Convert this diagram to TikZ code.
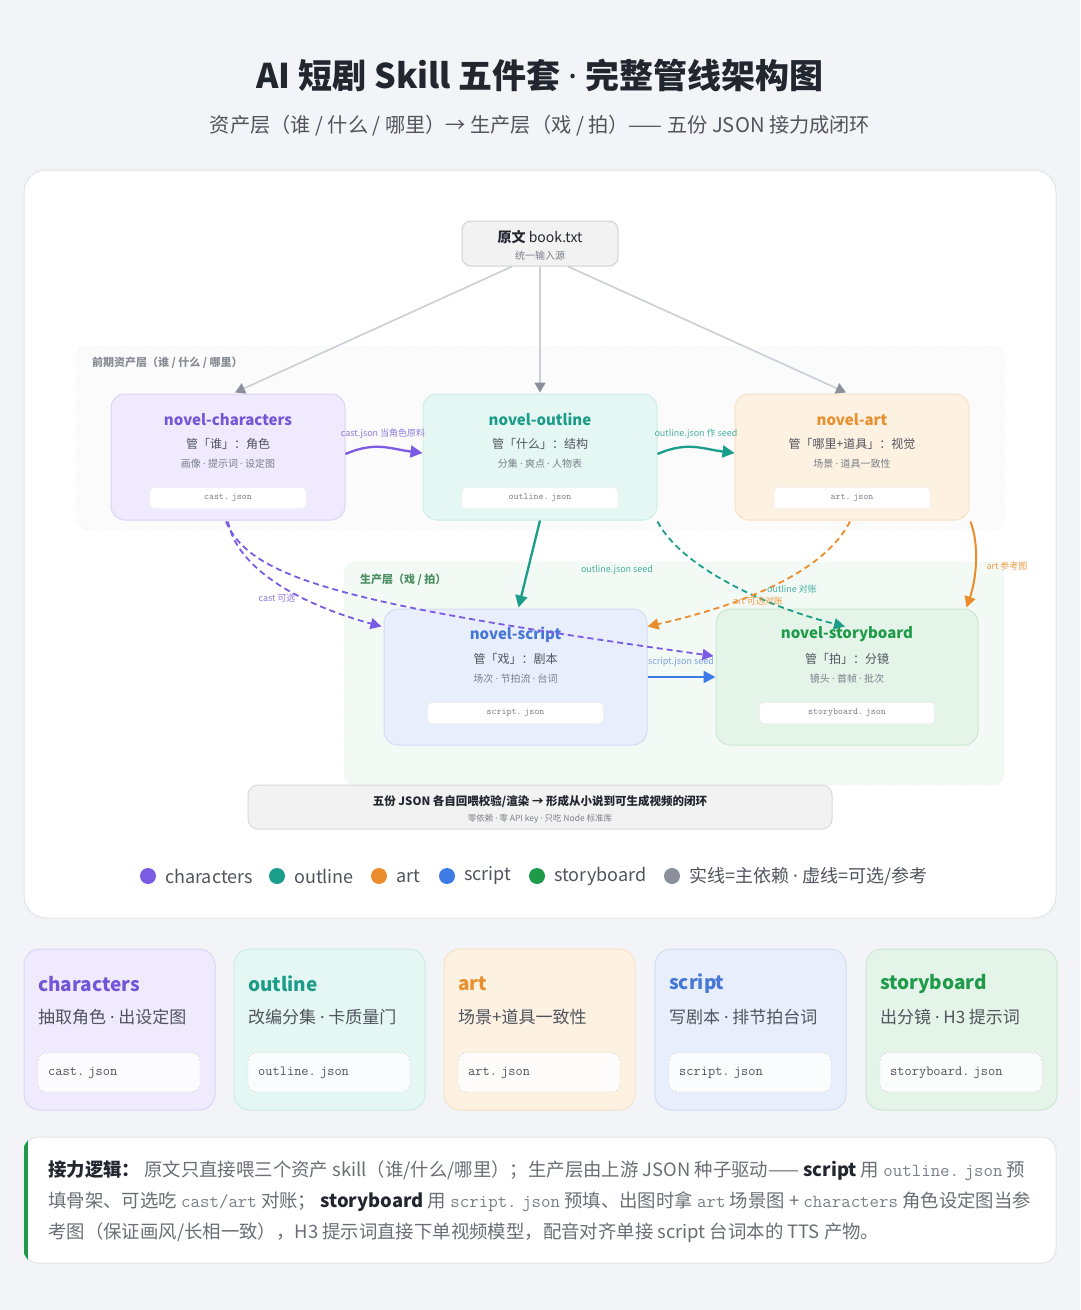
\documentclass[tikz,border=0pt]{standalone}
\usepackage{fontspec}
\setmainfont{Noto Sans CJK SC}
\newfontfamily\latinfont{Noto Sans}
\usetikzlibrary{arrows.meta,calc}

\definecolor{pagebg}{HTML}{F3F4F7}
\definecolor{cardline}{HTML}{E0E3E8}
\definecolor{ink}{HTML}{22262F}
\definecolor{inkmid}{HTML}{50545D}
\definecolor{inklight}{HTML}{7A7F89}
\definecolor{puF}{HTML}{EFEAFD}\definecolor{puL}{HTML}{DCD3F6}\definecolor{puT}{HTML}{7356D6}
\definecolor{teF}{HTML}{E4F7F3}\definecolor{teL}{HTML}{CBEDE5}\definecolor{teT}{HTML}{1C9C88}
\definecolor{orF}{HTML}{FDF1E1}\definecolor{orL}{HTML}{F8E1C4}\definecolor{orT}{HTML}{E8902F}
\definecolor{blF}{HTML}{E8EEFC}\definecolor{blL}{HTML}{D2DCF3}\definecolor{blT}{HTML}{4677D6}
\definecolor{grF}{HTML}{E4F4E8}\definecolor{grL}{HTML}{CBE6D2}\definecolor{grT}{HTML}{1E9A48}
\definecolor{puA}{HTML}{7A5BE3}
\definecolor{teA}{HTML}{1A9E8A}
\definecolor{orA}{HTML}{EB8D2C}
\definecolor{blA}{HTML}{3E7BE6}
\definecolor{grA}{HTML}{1E9A48}
\definecolor{grayA}{HTML}{8C909A}
\definecolor{lineGray}{HTML}{CBCED4}

\newcommand\fsz[1]{\fontsize{#1pt}{#1pt}\selectfont}
\newcommand\md{{\latinfont ·}}
\newcommand\jsn[1]{#1.\hspace{0.3em}json}
\newcommand\monotxt[1]{{\ttfamily\color{inklight}#1}}
\newcommand\strongtxt[1]{{\bfseries\color{ink}#1}}

\tikzset{
  skill/.style={rounded corners=14pt, line width=1pt, inner sep=0pt},
  pill/.style={fill=white, draw=black!8, rounded corners=4pt, minimum height=21pt, inner sep=0pt, font=\ttfamily\fsz{9.5}, text=inklight},
  lbl/.style={font=\fsz{9}, inner sep=1pt},
  srcarrow/.style={draw=lineGray, line width=1.6pt, -{Triangle[length=10pt,width=11pt,color=grayA]}},
  solidarr/.style={line width=2.3pt, -{Triangle[length=12pt,width=12pt]}},
  dasharr/.style={line width=1.8pt, dash pattern=on 6pt off 4pt, -{Triangle[length=11pt,width=11pt]}},
  cardbox/.style={rounded corners=16pt, line width=1pt, minimum width=191pt, minimum height=161pt, inner sep=0pt},
  dpill/.style={fill=white, fill opacity=0.85, draw=black!22, draw opacity=1, dash pattern=on 2pt off 2pt, rounded corners=8pt, minimum width=162pt, minimum height=39pt, inner sep=0pt},
  legdot/.style={circle, minimum size=16pt, inner sep=0pt},
  legtxt/.style={anchor=west, font=\fsz{18}, text=inkmid, inner sep=0pt},
}

\newcommand\skillnode[9]{%
  \node[skill, fill=#5F, draw=#5L, minimum width=#3pt, minimum height=#4pt] (#1) at #2 {};
  \node[font=\bfseries\fsz{15}, text=#5T] (#1-t) at ($(#1.north)+(0,26)$) {#6};
  \node[font=\fsz{12}, text=inkmid] (#1-a) at ($(#1.north)+(0,50)$) {#7};
  \node[font=\fsz{10}, text=inklight] (#1-b) at ($(#1.north)+(0,70)$) {#8};
  \node[pill, minimum width={0.667*#3pt}] (#1-j) at ($(#1.north)+(0,104.5)$) {#9};
}

\newcommand\bottomcard[6]{%
  \node[cardbox, fill=#3F, draw=#3L] (#1) at ({#2+95.5},1029.5) {};
  \node[anchor=west, font=\bfseries\fsz{19}, text=#3T, inner sep=0pt] (#1-t) at ({#2+14},984) {#4};
  \node[anchor=west, font=\fsz{17}, text=inkmid, inner sep=0pt] (#1-d) at ({#2+14},1017) {#5};
  \node[dpill] (#1-p) at ({#2+95},1072.5) {};
  \node[anchor=west, font=\ttfamily\fsz{14}, text=inkmid, inner sep=0pt] (#1-j) at ({#2+24},1073) {#6};
}

\begin{document}
\begin{tikzpicture}[x=1pt,y=-1pt]
\useasboundingbox (0,0) rectangle (1080,1310);
\fill[pagebg] (0,0) rectangle (1080,1310);

% title
\node[font=\bfseries\fsz{34}, text=ink] (title) at (540,75) {AI 短剧 Skill 五件套 \md{} 完整管线架构图};
\node[font=\fsz{20.2}, text=inkmid] (subtitle) at (540,126) {资产层（谁 / 什么 / 哪里）→ 生产层（戏 / 拍）—— 五份 JSON 接力成闭环};

% main card
\node[fill=white, draw=cardline, line width=1pt, rounded corners=22pt, minimum width=1032pt, minimum height=748pt, inner sep=0pt] (maincard) at (540,544) {};

% layers
\node[fill=black!1.5, draw=black!7, dashed, rounded corners=12pt, minimum width=928pt, minimum height=184pt, inner sep=0pt] (assetlayer) at (540,438) {};
\node[anchor=west, font=\bfseries\fsz{11}, text=inklight!90, inner sep=0pt] (assetlbl) at (92,363) {前期资产层（谁 / 什么 / 哪里）};
\node[fill=grF!45, draw=grL!70, dashed, rounded corners=12pt, minimum width=660pt, minimum height=223pt, inner sep=0pt] (prodlayer) at (674,673.5) {};
\node[anchor=west, font=\bfseries\fsz{11}, text=grT!55!gray, inner sep=0pt] (prodlbl) at (360,580) {生产层（戏 / 拍）};

% source
\node[fill=black!5, draw=black!18, line width=1pt, rounded corners=9pt, minimum width=156pt, minimum height=45pt, inner sep=0pt] (src) at (540,243.5) {};
\node[font=\fsz{14}, text=ink] (src-t) at (540,237) {\textbf{原文} book.txt};
\node[font=\fsz{10}, text=inklight] (src-b) at (540,256) {统一输入源};

% skill nodes
\skillnode{chars}{(228,457)}{234}{126}{pu}{novel-characters}{管「谁」：角色}{画像 \md{} 提示词 \md{} 设定图}{\jsn{cast}}
\skillnode{outl}{(540,457)}{234}{126}{te}{novel-outline}{管「什么」：结构}{分集 \md{} 爽点 \md{} 人物表}{\jsn{outline}}
\skillnode{art}{(852,457)}{234}{126}{or}{novel-art}{管「哪里+道具」：视觉}{场景 \md{} 道具一致性}{\jsn{art}}

% source arrows
\draw[srcarrow] ($(src.south)+(-28,0)$) -- ($(chars.north)+(7,-1)$);
\draw[srcarrow] (src.south) -- ($(outl.north)+(0,-1)$);
\draw[srcarrow] ($(src.south)+(28,0)$) -- ($(art.north)+(-6,-1)$);

% production nodes
\skillnode{script}{(515.5,677)}{263}{136}{bl}{novel-script}{管「戏」：剧本}{场次 \md{} 节拍流 \md{} 台词}{\jsn{script}}
\skillnode{story}{(847,677)}{262}{136}{gr}{novel-storyboard}{管「拍」：分镜}{镜头 \md{} 首帧 \md{} 批次}{\jsn{storyboard}}

% solid connectors
\draw[solidarr, puA] ($(chars.east)+(0,-3)$) .. controls ($(chars.east)+(30,-16)$) and ($(outl.west)+(-32,-8)$) .. ($(outl.west)+(0,-4)$);
\node[lbl, text=puT!80] (lb-cast) at (383,434) {cast.json 当角色原料};
\draw[solidarr, teA] ($(outl.east)+(0,-3)$) .. controls ($(outl.east)+(30,-16)$) and ($(art.west)+(-32,-8)$) .. ($(art.west)+(0,-4)$);
\node[lbl, text=teT!80] (lb-outl) at (696,434) {outline.json 作 seed};
\draw[solidarr, teA] (outl.south) -- ($(script.north)+(3,-1)$);
\node[lbl, text=teT!80] (lb-oseed) at (617,570) {outline.json seed};
\draw[line width=2pt, orA, -{Triangle[length=11pt,width=11pt]}] ($(art.south east)+(1,1)$) .. controls ($(art.south east)+(10,25)$) and ($(story.north east)+(-2,-30)$) .. ($(story.north east)+(-12,-1)$);
\node[lbl, text=orT!90] (lb-artref) at (1007,566) {art 参考图};
\draw[solidarr, blA] (script.east) -- (story.west);
\node[lbl, text=blT!70] (lb-sseed) at (681,662) {script.json seed};

% dashed connectors
\draw[dasharr, puA] ($(chars.south)+(0,1)$) .. controls (236,565) and (292,602) .. ($(script.north west)+(-2,18)$);
\node[lbl, text=puT!80] (lb-castopt) at (277,598) {cast 可选};
\draw[dasharr, puA] ($(chars.south)+(-2,1)$) .. controls (250,578) and (340,604) .. ($(story.west)+(-2,-21)$);
\draw[dasharr, teA] ($(outl.south east)+(0,1)$) .. controls (680,565) and (760,605) .. ($(story.north)+(-2,18)$);
\draw[dasharr, orA] ($(art.south)+(-2,1)$) .. controls (820,580) and (720,610) .. ($(script.north east)+(0,18)$);
\node[lbl, text=orT!90] (lb-artopt) at (758,601) {art 可选对账};
\node[lbl, text=teT!80] (lb-outchk) at (792,589) {outline 对账};

% summary bar
\node[fill=black!5, draw=black!15, line width=1pt, rounded corners=10pt, minimum width=584pt, minimum height=44pt, inner sep=0pt] (summary) at (540,807) {};
\node[font=\bfseries\fsz{11.5}, text=ink] (summary-t) at (540,802) {五份 JSON 各自回喂校验/渲染 → 形成从小说到可生成视频的闭环};
\node[font=\fsz{8.5}, text=inklight] (summary-b) at (540,819) {零依赖 \md{} 零 API key \md{} 只吃 Node 标准库};

% legend
\node[legdot, fill=puA] (ld1) at (148,876) {};
\node[legtxt] (lt1) at (165,876) {characters};
\node[legdot, fill=teA] (ld2) at (277,876) {};
\node[legtxt] (lt2) at (294,876) {outline};
\node[legdot, fill=orA] (ld3) at (379,876) {};
\node[legtxt] (lt3) at (396,876) {art};
\node[legdot, fill=blA] (ld4) at (447,876) {};
\node[legtxt] (lt4) at (464,876) {script};
\node[legdot, fill=grA] (ld5) at (537,876) {};
\node[legtxt] (lt5) at (554,876) {storyboard};
\node[legdot, fill=grayA] (ld6) at (672,876) {};
\node[legtxt] (lt6) at (689,876) {实线=主依赖 \md{} 虚线=可选/参考};

% bottom cards
\bottomcard{c1}{24}{pu}{characters}{抽取角色 \md{} 出设定图}{\jsn{cast}}
\bottomcard{c2}{234}{te}{outline}{改编分集 \md{} 卡质量门}{\jsn{outline}}
\bottomcard{c3}{444}{or}{art}{场景+道具一致性}{\jsn{art}}
\bottomcard{c4}{655}{bl}{script}{写剧本 \md{} 排节拍台词}{\jsn{script}}
\bottomcard{c5}{866}{gr}{storyboard}{出分镜 \md{} H3 提示词}{\jsn{storyboard}}

% note
\node[fill=white, draw=cardline, line width=1pt, rounded corners=14pt, minimum width=1032pt, minimum height=126pt, inner sep=0pt] (note) at (540,1200) {};
\begin{scope}
  \clip[rounded corners=14pt] (note.north west) rectangle (note.south east);
  \fill[grA] (note.north west) rectangle ($(note.south west)+(4,0)$);
\end{scope}
\node[anchor=west, font=\fsz{18.4}, text=inkmid!85, inner sep=0pt] (n1) at (48,1171) {\strongtxt{接力逻辑：} 原文只直接喂三个资产 skill（谁/什么/哪里）；生产层由上游 JSON 种子驱动—— \strongtxt{script} 用 \monotxt{\jsn{outline}} 预};
\node[anchor=west, font=\fsz{18.4}, text=inkmid!85, inner sep=0pt] (n2) at (48,1202) {填骨架、可选吃 \monotxt{cast/art} 对账； \strongtxt{storyboard} 用 \monotxt{\jsn{script}} 预填、出图时拿 \monotxt{art} 场景图 + \monotxt{characters} 角色设定图当参};
\node[anchor=west, font=\fsz{18.4}, text=inkmid!85, inner sep=0pt] (n3) at (48,1233) {考图（保证画风/长相一致），H3 提示词直接下单视频模型，配音对齐单接 script 台词本的 TTS 产物。};
\end{tikzpicture}
\end{document}
